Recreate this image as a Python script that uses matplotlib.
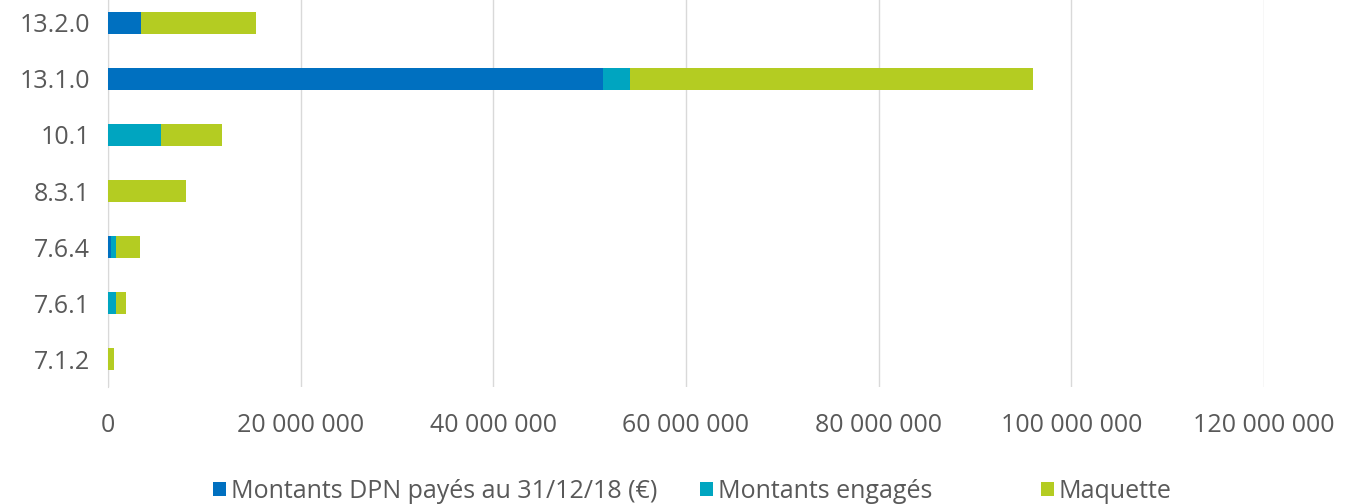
import matplotlib.pyplot as plt
from matplotlib.ticker import FuncFormatter
import numpy as np

mesures = ["7.1.2", "7.6.1", "7.6.4", "8.3.1", "10.1", "13.1.0", "13.2.0"]
payes = [0.0, 0.0, 0.35e6, 0.0, 0.0, 51.4e6, 3.4e6]
engages = [0.0, 0.8e6, 0.45e6, 0.0, 5.5e6, 2.75e6, 0.0]
maquette = [0.6e6, 1.1e6, 2.55e6, 8.1e6, 6.3e6, 41.9e6, 12.0e6]

noms_series = ["Montants DPN payés au 31/12/18 (€)", "Montants engagés", "Maquette"]
couleurs = ["#0070C0", "#00A5C0", "#B4CC22"]

plt.rcParams['font.family'] = ['Open Sans', 'DejaVu Sans']

fig = plt.figure(figsize=(13.53, 5.04), dpi=100)
ax = fig.add_axes([0.0798, 0.232, 0.8544, 0.778])

y = np.arange(len(mesures))
hauteur = 0.39
gauche = np.zeros(len(mesures))
barres = []
for valeurs, nom, coul in zip([payes, engages, maquette], noms_series, couleurs):
    b = ax.barh(y, valeurs, height=hauteur, left=gauche, color=coul, label=nom, zorder=3)
    barres.append(b)
    gauche = gauche + np.array(valeurs)

ax.set_xlim(0, 120e6)
ax.set_ylim(-0.5, len(mesures) - 0.5)
ax.set_yticks(y)
ax.set_yticklabels(mesures)
ax.set_xticks(np.arange(0, 120e6 + 1, 20e6))
ax.xaxis.set_major_formatter(FuncFormatter(lambda v, p: f"{int(v):,}".replace(",", " ")))

ax.grid(axis="x", color="#D9D9D9", linewidth=1, zorder=0)
for s in ["top", "right", "bottom"]:
    ax.spines[s].set_visible(False)
ax.spines["left"].set_color("#D9D9D9")
ax.tick_params(axis="both", length=0, labelsize=18, colors="#595959")
ax.tick_params(axis="y", pad=13)
ax.tick_params(axis="x", pad=19)

# une légende par série, placées comme dans Excel
positions_leg = [0.1575, 0.5175, 0.7695]
for b, nom, xpos in zip(barres, noms_series, positions_leg):
    leg = fig.legend([b], [nom], loc="center left", bbox_to_anchor=(xpos, 0.025),
                     frameon=False, fontsize=18, handlelength=0.5, handleheight=0.5,
                     handletextpad=0.2, borderpad=0, borderaxespad=0)
    for t in leg.get_texts():
        t.set_color("#595959")

fig.savefig("out.png", dpi=100)
